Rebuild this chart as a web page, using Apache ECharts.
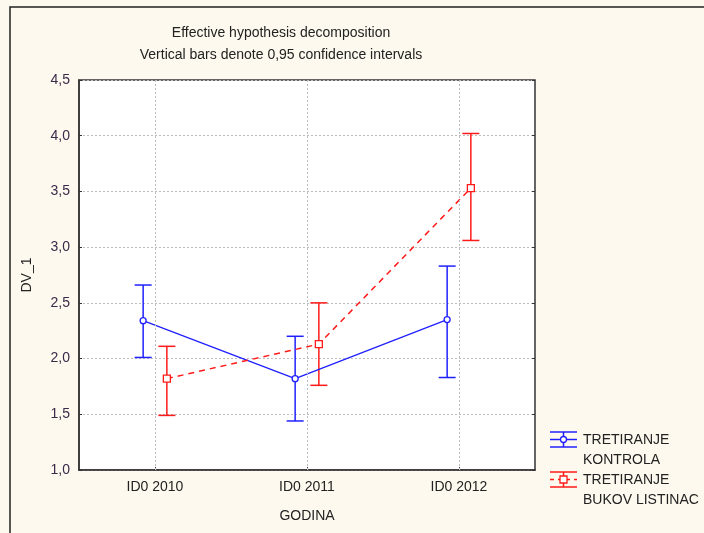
<!DOCTYPE html>
<html>
<head>
<meta charset="utf-8">
<script src="https://cdn.jsdelivr.net/npm/echarts@6/dist/echarts.min.js"></script>
<style>
  html, body { margin: 0; padding: 0; background: #fef9ee; }
  #chart { width: 704px; height: 533px; }
</style>
</head>
<body>
<div id="chart"></div>
<script>
// kategorije (godine)
const years = ['ID0 2010', 'ID0 2011', 'ID0 2012']
// TRETIRANJE KONTROLA
const kontrolaMean = [2.34, 1.82, 2.35]
const kontrolaLow = [2.01, 1.44, 1.83]
const kontrolaHigh = [2.66, 2.20, 2.83]
// TRETIRANJE BUKOV LISTINAC
const listinacMean = [1.82, 2.13, 3.53]
const listinacLow = [1.49, 1.76, 3.06]
const listinacHigh = [2.11, 2.50, 4.02]

const BLUE = '#2020ff'
const RED = '#ff1a1a'
const OFFSET = 0.078 // pomak tocaka lijevo/desno od kategorije
const FONT = 'Liberation Sans, Arial, sans-serif'
const FS = 14

const chart = echarts.init(document.getElementById('chart'))

// tocke za linije i error barove
const toPoints = (mean, off) => mean.map((v, i) => [i + off, v])
const toBars = (low, high, off) => low.map((v, i) => [i + off, v, high[i]])

// crtanje error bara preko koordinata osi
function errorBar (color) {
  return function (params, api) {
    const x = api.value(0)
    const lo = api.coord([x, api.value(1)])
    const hi = api.coord([x, api.value(2)])
    const half = 8.5
    const style = { stroke: color, lineWidth: 1.5 }
    return {
      type: 'group',
      children: [
        { type: 'line', shape: { x1: lo[0], y1: lo[1], x2: hi[0], y2: hi[1] }, style },
        { type: 'line', shape: { x1: hi[0] - half, y1: hi[1], x2: hi[0] + half, y2: hi[1] }, style },
        { type: 'line', shape: { x1: lo[0] - half, y1: lo[1], x2: lo[0] + half, y2: lo[1] }, style }
      ]
    }
  }
}

// ikona legende (error bar znak)
function legendIcon (y, color, dashed, markerType) {
  const st = { stroke: color, lineWidth: 1.5 }
  const items = [
    { type: 'line', shape: { x1: 550, y1: y - 7.5, x2: 577, y2: y - 7.5 }, style: st },
    { type: 'line', shape: { x1: 550, y1: y + 7.5, x2: 577, y2: y + 7.5 }, style: st },
    { type: 'line', shape: { x1: 563.5, y1: y - 7.5, x2: 563.5, y2: y + 7.5 }, style: st },
    { type: 'line', shape: { x1: 550, y1: y, x2: 577, y2: y }, style: { stroke: color, lineWidth: 1.5, lineDash: dashed ? [4, 4] : null } }
  ]
  if (markerType === 'circle') {
    items.push({ type: 'circle', shape: { cx: 563.5, cy: y, r: 3 }, style: { fill: '#fff', stroke: color, lineWidth: 1.3 } })
  } else {
    items.push({ type: 'rect', shape: { x: 560, y: y - 3.5, width: 7, height: 7 }, style: { fill: '#fff', stroke: color, lineWidth: 1.3 } })
  }
  return items
}

const option = {
  backgroundColor: '#fef9ee',
  animation: false,
  textStyle: { fontFamily: FONT },
  title: {
    text: 'Effective hypothesis decomposition',
    subtext: 'Vertical bars denote 0,95 confidence intervals',
    left: 276,
    top: 21,
    textAlign: 'center',
    itemGap: 8,
    textStyle: { fontSize: FS, fontWeight: 'normal', color: '#222', fontFamily: FONT },
    subtextStyle: { fontSize: FS, color: '#222', fontFamily: FONT }
  },
  grid: {
    left: 79,
    top: 80,
    right: 169,
    bottom: 63,
    show: true,
    backgroundColor: '#ffffff',
    borderColor: '#333',
    borderWidth: 1.5
  },
  xAxis: [
    {
      type: 'category',
      data: years,
      boundaryGap: true,
      name: 'GODINA',
      nameLocation: 'middle',
      nameGap: 39,
      nameTextStyle: { fontSize: FS, color: '#222' },
      axisLine: { onZero: false, lineStyle: { color: '#333', width: 1.5 } },
      axisTick: { show: true, inside: true, length: 3, alignWithLabel: true, lineStyle: { color: '#333' } },
      axisLabel: { fontSize: FS, color: '#222', margin: 10 },
      splitLine: { show: false }
    },
    {
      type: 'value',
      min: -0.5,
      max: 2.5,
      show: false
    }
  ],
  yAxis: [
    {
      type: 'value',
      min: 1,
      max: 4.5,
      interval: 0.5,
      name: 'DV_1',
      nameLocation: 'middle',
      nameGap: 45,
      nameTextStyle: { fontSize: FS, color: '#222' },
      axisLine: { show: true, onZero: false, lineStyle: { color: '#333', width: 1.5 } },
      axisTick: { show: true, inside: true, length: 3, lineStyle: { color: '#333' } },
      axisLabel: {
        fontSize: FS,
        color: '#3a2a4a',
        margin: 9,
        formatter: v => v.toFixed(1).replace('.', ',')
      },
      splitLine: { show: true, lineStyle: { color: '#bdbdbd', type: [2, 2], width: 1 } }
    },
    {
      type: 'value',
      min: 1,
      max: 4.5,
      interval: 0.5,
      position: 'right',
      axisLine: { show: false, onZero: false },
      axisTick: { show: true, inside: true, length: 3, lineStyle: { color: '#333' } },
      axisLabel: { show: false },
      splitLine: { show: false }
    }
  ],
  series: [
    {
      // vertikalne tockaste linije na kategorijama
      type: 'line',
      xAxisIndex: 1,
      data: [],
      z: 1,
      markLine: {
        silent: true,
        symbol: 'none',
        label: { show: false },
        lineStyle: { color: '#bdbdbd', type: [2, 2], width: 1 },
        data: years.map((y, i) => ({ xAxis: i }))
      }
    },
    {
      name: 'KONTROLA',
      type: 'line',
      xAxisIndex: 1,
      data: toPoints(kontrolaMean, -OFFSET),
      symbol: 'circle',
      symbolSize: 6,
      lineStyle: { color: BLUE, width: 1.3 },
      itemStyle: { color: '#fff', borderColor: BLUE, borderWidth: 1.3 },
      z: 4
    },
    {
      name: 'KONTROLA CI',
      type: 'custom',
      xAxisIndex: 1,
      data: toBars(kontrolaLow, kontrolaHigh, -OFFSET),
      renderItem: errorBar(BLUE),
      z: 3
    },
    {
      name: 'BUKOV LISTINAC',
      type: 'line',
      xAxisIndex: 1,
      data: toPoints(listinacMean, OFFSET),
      symbol: 'rect',
      symbolSize: 7,
      lineStyle: { color: RED, width: 1.5, type: [6, 5] },
      itemStyle: { color: '#fff', borderColor: RED, borderWidth: 1.3 },
      z: 4
    },
    {
      name: 'BUKOV LISTINAC CI',
      type: 'custom',
      xAxisIndex: 1,
      data: toBars(listinacLow, listinacHigh, OFFSET),
      renderItem: errorBar(RED),
      z: 3
    }
  ],
  graphic: [
    // okvir slike
    { type: 'rect', shape: { x: 10, y: 7, width: 720, height: 560 }, style: { fill: 'none', stroke: '#222', lineWidth: 1.5 }, silent: true },
    ...legendIcon(439.5, BLUE, false, 'circle'),
    ...legendIcon(479.5, RED, true, 'rect'),
    { type: 'text', x: 583, y: 430, style: { text: 'TRETIRANJE\nKONTROLA', font: FS + 'px ' + FONT, fill: '#222', lineHeight: 20 } },
    { type: 'text', x: 583, y: 470, style: { text: 'TRETIRANJE\nBUKOV LISTINAC', font: FS + 'px ' + FONT, fill: '#222', lineHeight: 20 } }
  ]
}

chart.setOption(option)
</script>
</body>
</html>
